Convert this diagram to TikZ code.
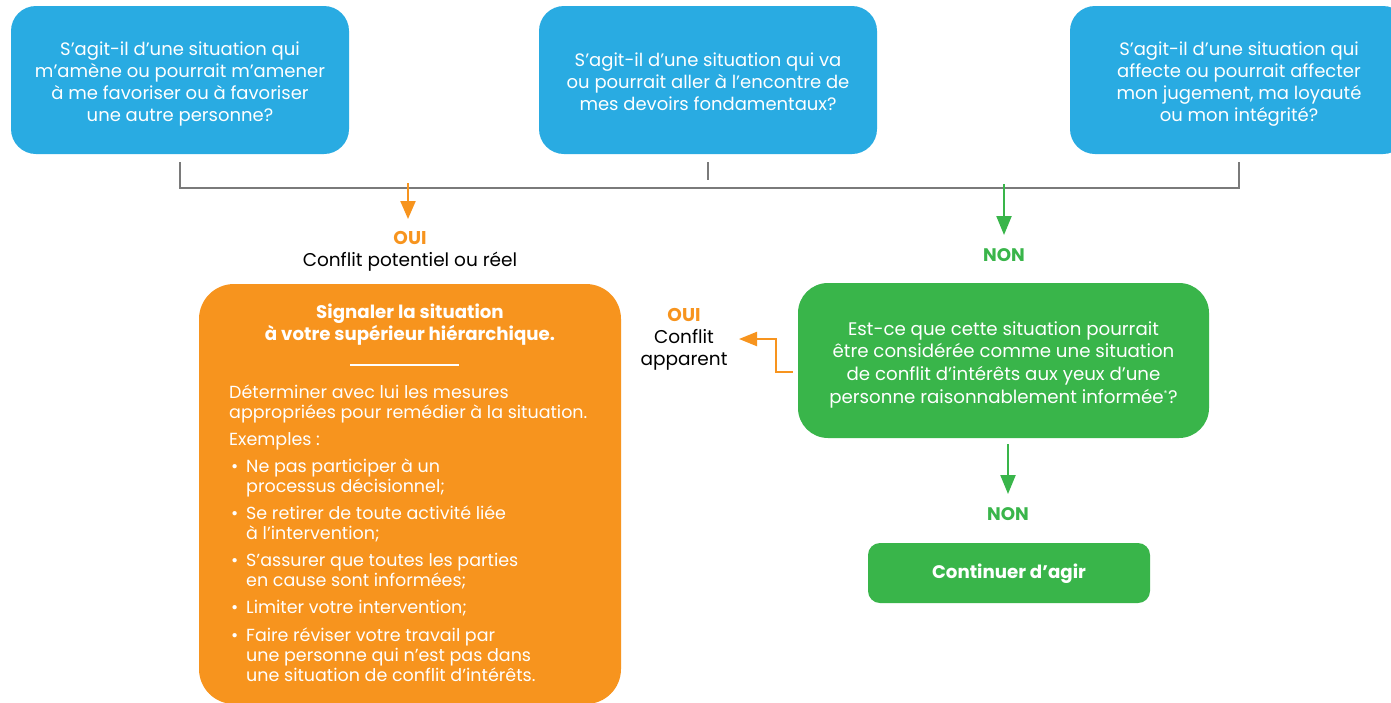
\documentclass[tikz,border=0pt]{standalone}
\usepackage{fontspec}
\setmainfont{Poppins}
\usetikzlibrary{arrows.meta}
\definecolor{cblue}{HTML}{29ABE2}
\definecolor{corange}{HTML}{F7941E}
\definecolor{cgreen}{HTML}{39B54A}
\definecolor{cgray}{HTML}{7A7A7A}
\newcommand\myqfont{\fontsize{18}{22}\selectfont}
\newcommand\mygfont{\fontsize{18.2}{22.7}\selectfont}
\newcommand\mylfont{\fontsize{18.5}{22}\selectfont}
\newcommand\mybfont{\fontsize{18.2}{22}\selectfont\bfseries}
\newcommand\mybodyfont{\fontsize{17.5}{20}\selectfont}
\newcommand\mybul{\hspace*{2pt}\makebox[15pt][l]{\textbullet}}
\newcommand\myind{\hspace*{17pt}}
\tikzset{
  qbox/.style={fill=cblue, rounded corners=25pt, text=white, align=center,
    font=\myqfont, minimum width=338pt, minimum height=148pt, inner sep=0pt},
  actbox/.style={fill=corange, rounded corners=35pt, minimum width=422pt,
    minimum height=420pt, inner sep=0pt},
  gbox/.style={fill=cgreen, rounded corners=30pt, text=white, align=center,
    font=\mygfont, minimum width=411pt, minimum height=155pt, inner sep=0pt},
  cbox/.style={fill=cgreen, rounded corners=12pt, text=white, font=\mybfont,
    minimum width=282pt, minimum height=60pt, inner sep=0pt},
  bodytext/.style={text=white, align=left, font=\mybodyfont, inner sep=0pt,
    anchor=north west},
  titletext/.style={text=white, align=center, font=\mybfont, inner sep=0pt},
  lbl/.style={align=center, font=\mylfont, inner sep=0pt},
  bracket/.style={draw=cgray, line width=2pt},
  oarrow/.style={draw=corange, line width=2.2pt, -{Triangle[length=18pt,width=15pt]}},
  garrow/.style={draw=cgreen, line width=2.2pt, -{Triangle[length=19pt,width=15pt]}},
}
\begin{document}
\begin{tikzpicture}[x=1pt,y=-1pt]
\clip (0,0) rectangle (1391,702);
\fill[white] (0,0) rectangle (1391,702);

% question boxes
\node[qbox] (q1) at (180,80) {\rule{0pt}{21pt}S’agit-il d’une situation qui\\m’amène ou pourrait m’amener\\à me favoriser ou à favoriser\\une autre personne?};
\node[qbox] (q2) at (708,80) {\rule{0pt}{17pt}S’agit-il d’une situation qui va\\ou pourrait aller à l’encontre de\\mes devoirs fondamentaux?};
\node[qbox] (q3) at (1239,80) {\rule{0pt}{21pt}S’agit-il d’une situation qui\\affecte ou pourrait affecter\\mon jugement, ma loyauté\\ou mon intégrité?};

% bracket
\coordinate (bar) at (0,180);
\draw[bracket] ([yshift=-8pt]q1.south) |- ([yshift=-8pt]q3.south |- bar) -- ([yshift=-8pt]q3.south);
\draw[bracket] ([yshift=-8pt]q2.south) -- (q2.south |- bar);

% OUI left
\coordinate (a1s) at (408,183);
\coordinate (a1e) at (408,219);
\draw[oarrow] (a1s) -- (a1e);
\node[lbl] (oui1) at (410,251.5) {\textcolor{corange}{\bfseries OUI}\\Conflit potentiel ou réel};

% NON top
\coordinate (a2s) at (1004,184);
\coordinate (a2e) at (1004,235);
\draw[garrow] (a2s) -- (a2e);
\node[lbl, text=cgreen, font=\mybfont] (non1) at (1004,255) {NON};

% action box
\node[actbox] (act) at (410,494) {};
\node[titletext] (ttl) at (410,324.5) {Signaler la situation\\à votre supérieur hiérarchique.};
\draw[white, line width=1.2pt] (350,365) -- (459,365);
\node[bodytext] (body) at (229,384) {\strut Déterminer avec lui les mesures\\
appropriées pour remédier à la situation.\\[7pt]
Exemples :\\[7pt]
\mybul Ne pas participer à un\\
\myind processus décisionnel;\\[7pt]
\mybul Se retirer de toute activité liée\\
\myind à l’intervention;\\[7pt]
\mybul S’assurer que toutes les parties\\
\myind en cause sont informées;\\[7.5pt]
\mybul Limiter votre intervention;\\[7.5pt]
\mybul Faire réviser votre travail par\\
\myind une personne qui n’est pas dans\\
\myind une situation de conflit d’intérêts.};

% green question
\node[gbox] (qg) at (1003.5,360.5) {\rule{0pt}{22pt}Est-ce que cette situation pourrait\\être considérée comme une situation\\de conflit d’intérêts aux yeux d’une\\personne raisonnablement informée\textsuperscript{\footnotesize *}?};

% OUI apparent
\node[lbl] (oui2) at (684,339) {\textcolor{corange}{\bfseries OUI}\\Conflit\\apparent};
\coordinate (elb) at (776,339);
\coordinate (a3e) at (739,339);
\draw[oarrow, -{Triangle[length=18pt,width=14pt]}, shorten <=5pt] ([yshift=-11.5pt]qg.west) -| (elb) -- (a3e);

% NON bottom
\coordinate (a4s) at (1008,444);
\coordinate (a4e) at (1008,494);
\draw[garrow] (a4s) -- (a4e);
\node[lbl, text=cgreen, font=\mybfont] (non2) at (1008,514) {NON};

% continue
\node[cbox] (cont) at (1009,573) {\rule{0pt}{15pt}Continuer d’agir};
\end{tikzpicture}
\end{document}
